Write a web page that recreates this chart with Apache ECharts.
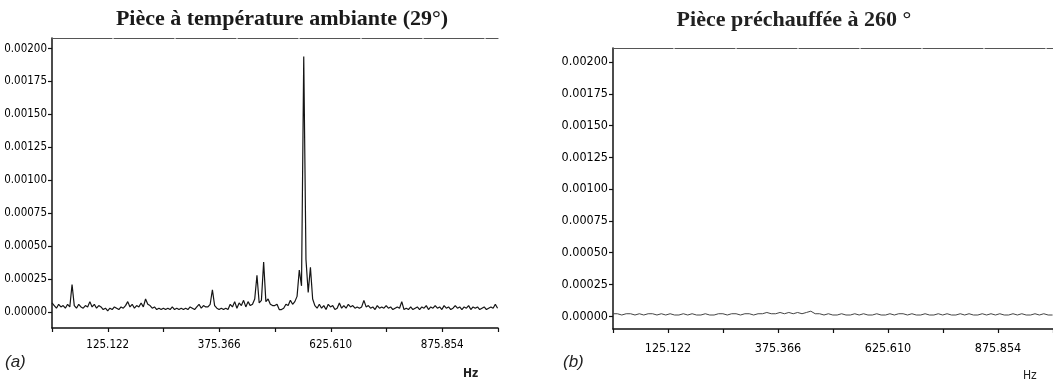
<!DOCTYPE html>
<html>
<head>
<meta charset="utf-8">
<script src="https://cdn.jsdelivr.net/npm/echarts@6/dist/echarts.min.js"></script>
<style>html,body{margin:0;padding:0;background:#fff;}#c{width:1053px;height:383px;}</style>
</head>
<body>
<div id="c"></div>
<script>
// ---------- data ----------
const titleA = "Pièce à température ambiante (29°)";
const titleB = "Pièce préchauffée à 260 °";
const xTickLabels = ["125.122", "375.366", "625.610", "875.854"];
const xTickAll = [0, 125.122, 250.244, 375.366, 500.488, 625.610, 750.732, 875.854, 1000.976];
const yTicks = [0, 0.00025, 0.00050, 0.00075, 0.00100, 0.00125, 0.00150, 0.00175, 0.00200];

const freqA = [
  0,5,10,15,20,25,30,35,40,45,
  50,55,60,65,70,75,80,85,90,95,
  100,105,110,115,120,125,130,135,140,145,
  150,155,160,165,170,175,180,185,190,195,
  200,205,210,215,220,225,230,235,240,245,
  250,255,260,265,270,275,280,285,290,295,
  300,305,310,315,320,325,330,335,340,345,
  350,355,360,365,370,375,380,385,390,395,
  400,405,410,415,420,425,430,435,440,445,
  450,455,460,465,470,475,480,485,490,495,
  500,505,510,515,520,525,530,535,540,545,
  550,555,560,565,570,575,580,585,590,595,
  600,605,610,615,620,625,630,635,640,645,
  650,655,660,665,670,675,680,685,690,695,
  700,705,710,715,720,725,730,735,740,745,
  750,755,760,765,770,775,780,785,790,795,
  800,805,810,815,820,825,830,835,840,845,
  850,855,860,865,870,875,880,885,890,895,
  900,905,910,915,920,925,930,935,940,945,
  950,955,960,965,970,975,980,985,990,995,
  1000
];
const ampA = [
  0.00007,0.00005,0.00003,0.00006,0.00004,0.00005,0.00003,0.00006,0.00004,0.00021,
  0.00005,0.00003,0.00006,0.00004,0.00003,0.00005,0.00004,0.00008,0.00004,0.00006,
  0.00003,0.00005,0.00004,0.00002,0.00003,0.00001,0.00003,0.00002,0.00004,0.00003,
  0.00002,0.00004,0.00003,0.00005,0.00008,0.00004,0.00006,0.00003,0.00005,0.00004,
  0.00007,0.00004,0.00010,0.00006,0.00005,0.00003,0.00004,0.00002,0.00003,0.00002,
  0.00003,0.00002,0.00003,0.00002,0.00004,0.00002,0.00003,0.00002,0.00003,0.00002,
  0.00003,0.00002,0.00004,0.00003,0.00002,0.00004,0.00006,0.00003,0.00005,0.00004,
  0.00004,0.00006,0.00017,0.00005,0.00003,0.00002,0.00003,0.00002,0.00003,0.00002,
  0.00006,0.00004,0.00008,0.00003,0.00007,0.00005,0.00009,0.00004,0.00008,0.00005,
  0.00006,0.00010,0.00028,0.00007,0.00009,0.00038,0.00008,0.00010,0.00006,0.00005,
  0.00005,0.00006,0.00002,0.00002,0.00003,0.00006,0.00005,0.00009,0.00006,0.00008,
  0.00012,0.00032,0.00020,0.00194,0.00040,0.00015,0.00034,0.00010,0.00005,0.00003,
  0.00006,0.00003,0.00005,0.00002,0.00006,0.00004,0.00005,0.00002,0.00003,0.00007,
  0.00003,0.00005,0.00003,0.00006,0.00004,0.00005,0.00003,0.00004,0.00003,0.00004,
  0.00009,0.00004,0.00005,0.00003,0.00004,0.00002,0.00005,0.00003,0.00004,0.00003,
  0.00005,0.00003,0.00004,0.00002,0.00003,0.00004,0.00003,0.00008,0.00002,0.00003,
  0.00002,0.00004,0.00002,0.00003,0.00004,0.00002,0.00004,0.00003,0.00005,0.00002,
  0.00004,0.00003,0.00005,0.00003,0.00004,0.00002,0.00005,0.00003,0.00004,0.00002,
  0.00003,0.00005,0.00003,0.00004,0.00002,0.00004,0.00003,0.00005,0.00002,0.00004,
  0.00003,0.00004,0.00002,0.00003,0.00004,0.00002,0.00003,0.00004,0.00003,0.00006,
  0.00003
];

const freqB = [
  0,10,20,30,40,50,60,70,80,90,
  100,110,120,130,140,150,160,170,180,190,
  200,210,220,230,240,250,260,270,280,290,
  300,310,320,330,340,350,360,370,380,390,
  400,410,420,430,440,450,460,470,480,490,
  500,510,520,530,540,550,560,570,580,590,
  600,610,620,630,640,650,660,670,680,690,
  700,710,720,730,740,750,760,770,780,790,
  800,810,820,830,840,850,860,870,880,890,
  900,910,920,930,940,950,960,970,980,990,
  1000
];
const ampB = [
  0.00002,0.00002,0.00001,0.00002,0.00002,0.00001,0.00002,0.00001,0.00002,0.00002,
  0.00001,0.00002,0.00001,0.00002,0.00001,0.00001,0.00002,0.00001,0.00002,0.00001,
  0.00001,0.00002,0.00001,0.00001,0.00002,0.00002,0.00001,0.00002,0.00002,0.00001,
  0.00002,0.00002,0.00001,0.00002,0.00002,0.00003,0.00002,0.00002,0.00003,0.00002,
  0.00003,0.00002,0.00003,0.00002,0.00003,0.00004,0.00002,0.00002,0.00001,0.00002,
  0.00001,0.00001,0.00002,0.00001,0.00001,0.00002,0.00001,0.00002,0.00001,0.00001,
  0.00002,0.00001,0.00001,0.00002,0.00001,0.00002,0.00002,0.00001,0.00002,0.00001,
  0.00001,0.00002,0.00001,0.00001,0.00002,0.00001,0.00002,0.00001,0.00001,0.00002,
  0.00001,0.00002,0.00001,0.00001,0.00002,0.00001,0.00002,0.00001,0.00002,0.00001,
  0.00001,0.00002,0.00001,0.00002,0.00001,0.00001,0.00002,0.00001,0.00002,0.00001,
  0.00001
];

// ---------- chart ----------
const narrow = "'Liberation Sans Narrow', 'DejaVu Sans Condensed', 'Arial Narrow', sans-serif";
const ink = '#111';
const xLabelVals = xTickLabels.map(parseFloat);

function bottomX(gi, margin, size) {
  return {
    type: 'value', gridIndex: gi, position: 'bottom', min: 0, max: 1000.976,
    axisLine: { show: true, onZero: false, lineStyle: { color: ink, width: 1.5 } },
    axisTick: { show: true, customValues: xTickAll, length: 4, lineStyle: { color: ink, width: 1.2 } },
    axisLabel: { show: true, customValues: xLabelVals, margin: margin, color: '#000',
      fontFamily: narrow, fontSize: size, formatter: v => v.toFixed(3) },
    splitLine: { show: false }
  };
}
function topX(gi) {
  return {
    type: 'value', gridIndex: gi, position: 'top', min: 0, max: 1000.976,
    axisLine: { show: true, onZero: false, lineStyle: { color: '#555', width: 1.2, type: [60, 2] } },
    axisTick: { show: false }, axisLabel: { show: false }, splitLine: { show: false }
  };
}
function leftY(gi, min, max, margin, size) {
  return {
    type: 'value', gridIndex: gi, min: min, max: max,
    axisLine: { show: true, onZero: false, lineStyle: { color: ink, width: 1.5 } },
    axisTick: { show: true, customValues: yTicks, length: 4, lineStyle: { color: ink, width: 1.2 } },
    axisLabel: { show: true, customValues: yTicks, margin: margin, color: '#000',
      fontFamily: narrow, fontSize: size, formatter: v => v.toFixed(5) },
    splitLine: { show: false }
  };
}

const chart = echarts.init(document.getElementById('c'), null, { renderer: 'canvas' });
chart.setOption({
  animation: false,
  backgroundColor: '#ffffff',
  grid: [
    { left: 52, top: 38, width: 446, height: 290 },
    { left: 613, top: 48, width: 451, height: 281 }
  ],
  xAxis: [bottomX(0, 11, 11.5), topX(0), bottomX(1, 13, 12.5), topX(1)],
  yAxis: [leftY(0, -0.00012, 0.00208, 5, 11.5), leftY(1, -0.0001, 0.00211, 5, 12.5)],
  series: [
    { type: 'line', xAxisIndex: 0, yAxisIndex: 0, showSymbol: false, symbol: 'none',
      lineStyle: { color: '#151515', width: 1.2 }, data: freqA.map((f, i) => [f, ampA[i]]) },
    { type: 'line', xAxisIndex: 2, yAxisIndex: 1, showSymbol: false, symbol: 'none',
      lineStyle: { color: '#444', width: 1 }, data: freqB.map((f, i) => [f, ampB[i]]) }
  ],
  graphic: [
    { type: 'text', x: 282, y: 8, style: { text: titleA, textAlign: 'center', textVerticalAlign: 'top',
      font: "bold 22px 'Liberation Serif', 'Times New Roman', serif", fill: '#1a1a1a' } },
    { type: 'text', x: 794, y: 9, style: { text: titleB, textAlign: 'center', textVerticalAlign: 'top',
      font: "bold 22px 'Liberation Serif', 'Times New Roman', serif", fill: '#222' } },
    { type: 'text', x: 5, y: 354, style: { text: '(a)', textVerticalAlign: 'top',
      font: "italic 17px 'Liberation Sans', Arial, sans-serif", fill: '#222' } },
    { type: 'text', x: 563, y: 354, style: { text: '(b)', textVerticalAlign: 'top',
      font: "italic 17px 'Liberation Sans', Arial, sans-serif", fill: '#222' } },
    { type: 'text', x: 463, y: 368, style: { text: 'Hz', textVerticalAlign: 'top',
      font: "bold 12px " + narrow, fill: '#222' } },
    { type: 'text', x: 1023, y: 370, style: { text: 'Hz', textVerticalAlign: 'top',
      font: "12px " + narrow, fill: '#222' } }
  ]
});
</script>
</body>
</html>
